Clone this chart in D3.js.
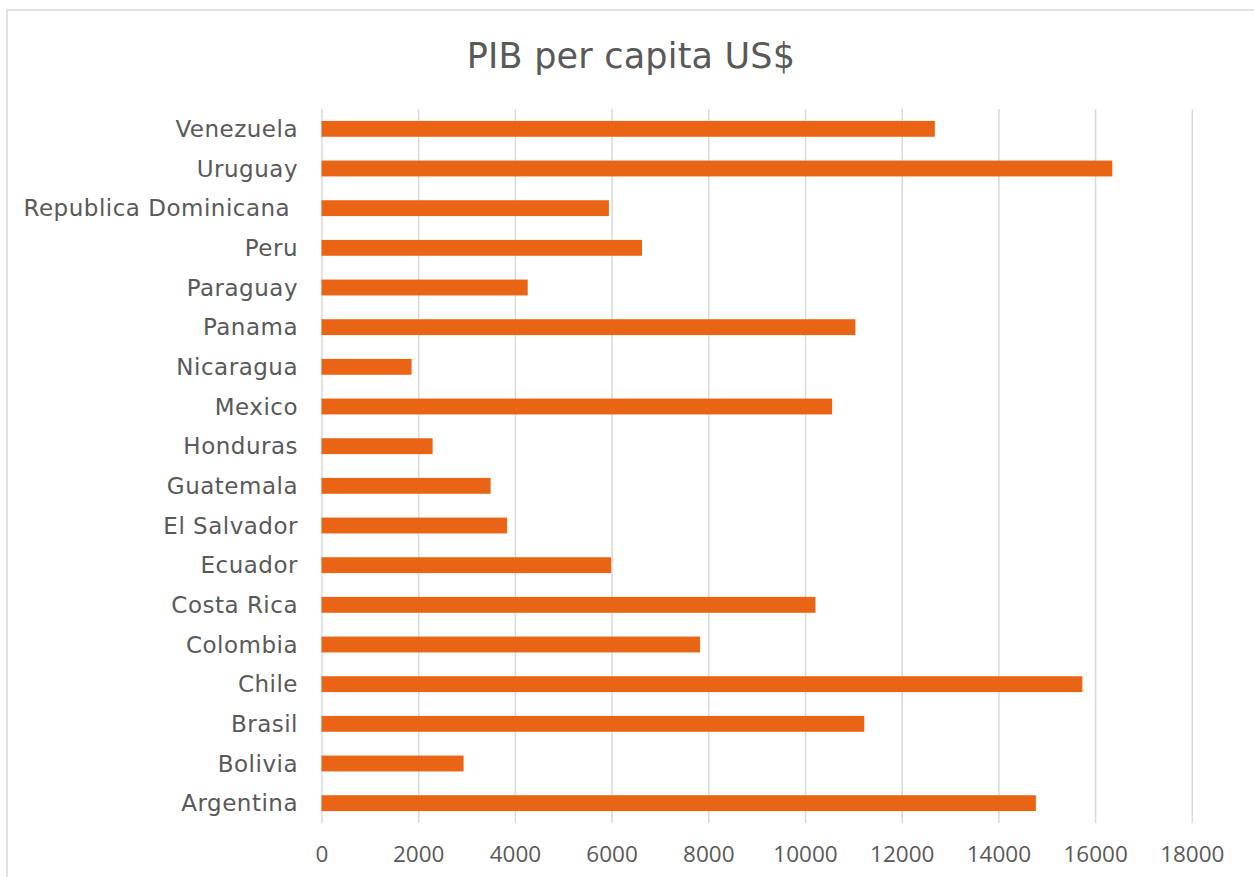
<!DOCTYPE html>
<html>
<head>
<meta charset="utf-8">
<script src="https://cdn.jsdelivr.net/npm/d3@7"></script>
<style>
  html, body { margin: 0; padding: 0; background: #ffffff; }
  svg { display: block; }
</style>
</head>
<body>
<svg id="chart" width="1254" height="877"></svg>
<script>
// ---- Data ----
const title = "PIB per capita US$";
const categories = [
  "Argentina", "Bolivia", "Brasil", "Chile", "Colombia", "Costa Rica",
  "Ecuador", "El Salvador", "Guatemala", "Honduras", "Mexico", "Nicaragua",
  "Panama", "Paraguay", "Peru", "Republica Dominicana ", "Uruguay", "Venezuela"
];
const values = [
  14775, 2939, 11226, 15737, 7830, 10217,
  5991, 3839, 3498, 2298, 10561, 1863,
  11042, 4265, 6629, 5944, 16356, 12685
];
const tickValues = [0, 2000, 4000, 6000, 8000, 10000, 12000, 14000, 16000, 18000];

// ---- Layout ----
const W = 1254, H = 877;
const plot = { left: 321.5, right: 1191.8, top: 109, bottom: 823 };
const labelFont = "'DejaVu Sans', sans-serif";
const tickFont = "'Open Sans', 'DejaVu Sans', sans-serif";
const textColor = "#595959";
const gridColor = "#d9d9d9";
const barColor = "#EA6415";

const svg = d3.select("#chart");

// chart border
svg.append("rect")
  .attr("x", 7).attr("y", 10)
  .attr("width", W + 10).attr("height", H + 10)
  .attr("fill", "#ffffff")
  .attr("stroke", gridColor).attr("stroke-width", 1.5);

const x = d3.scaleLinear().domain([0, 18000]).range([plot.left, plot.right]);
const y = d3.scaleBand()
  .domain(categories.slice().reverse())
  .range([plot.top, plot.bottom])
  .padding(0);
const barH = y.bandwidth() / 2.5;

// gridlines + tick labels via axis
const gAxis = svg.append("g")
  .attr("transform", `translate(0,${plot.bottom})`)
  .call(d3.axisBottom(x).tickValues(tickValues).tickSize(-(plot.bottom - plot.top)).tickFormat(d3.format("d")));
gAxis.select(".domain").remove();
gAxis.selectAll(".tick line")
  .attr("stroke", gridColor).attr("stroke-width", 1.5);
gAxis.selectAll(".tick text")
  .attr("fill", textColor)
  .attr("font-family", tickFont)
  .attr("font-size", 22.5)
  .attr("y", 39)
  .attr("dy", 0);

// bars
svg.append("g").selectAll("rect")
  .data(categories)
  .join("rect")
  .attr("x", x(0))
  .attr("y", d => y(d) + (y.bandwidth() - barH) / 2)
  .attr("width", (d, i) => x(values[i]) - x(0))
  .attr("height", barH)
  .attr("fill", barColor);

// category labels
svg.append("g").selectAll("text")
  .data(categories)
  .join("text")
  .attr("x", 298)
  .attr("y", d => y(d) + y.bandwidth() / 2)
  .attr("dy", "0.36em")
  .attr("text-anchor", "end")
  .style("white-space", "pre")
  .style("letter-spacing", "0.5px")
  .attr("fill", textColor)
  .attr("font-family", labelFont)
  .attr("font-size", 23)
  .text(d => d);

// title
svg.append("text")
  .attr("x", 631).attr("y", 68)
  .attr("text-anchor", "middle")
  .style("letter-spacing", "0.2px")
  .attr("fill", textColor)
  .attr("font-family", labelFont)
  .attr("font-size", 35)
  .text(title);
</script>
</body>
</html>
